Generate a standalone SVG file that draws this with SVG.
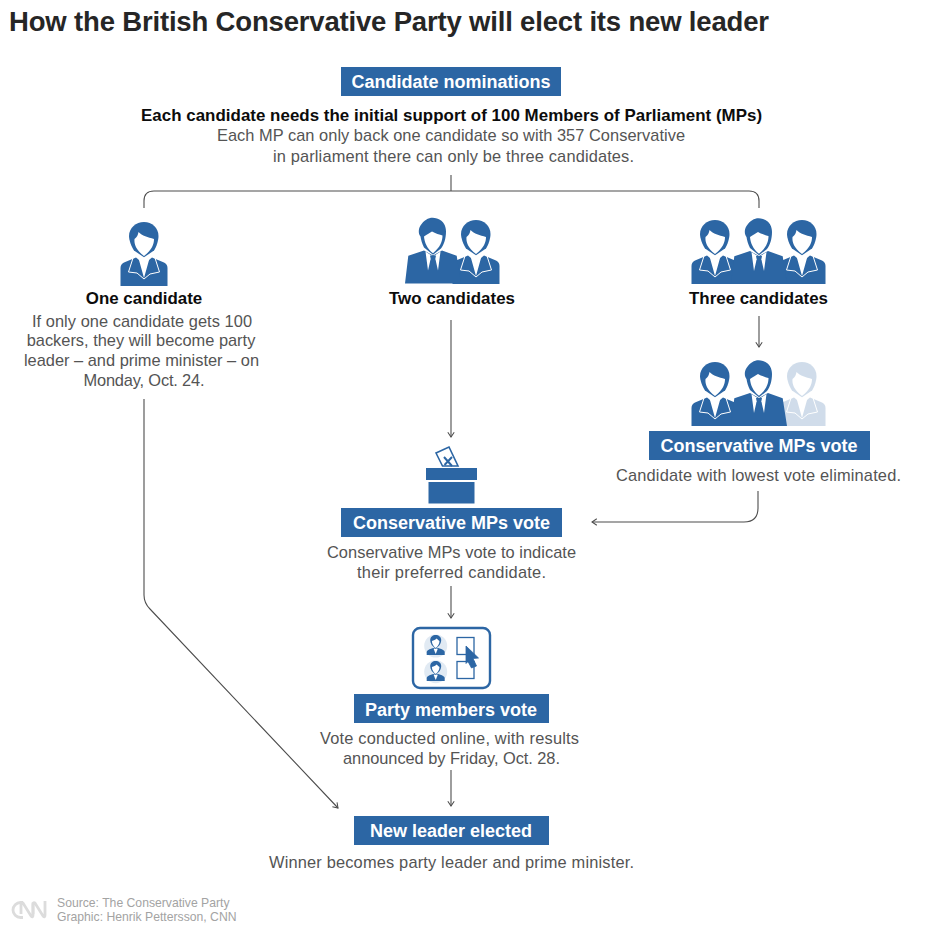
<svg xmlns="http://www.w3.org/2000/svg" width="934" height="946" viewBox="0 0 934 946">
<style>
text{font-family:"Liberation Sans",Arial,sans-serif}
.title{font-size:27.5px;font-weight:700;fill:#262626}
.box{fill:#2c66a4}
.bt{font-size:18px;font-weight:700;fill:#fff;text-anchor:middle}
.h{font-size:16.900px;font-weight:700;fill:#0c0c0c;text-anchor:middle}
.b{font-size:16.400px;fill:#545454;text-anchor:middle}
.src{font-size:12.200px;fill:#a3a3a3}
.c{fill:none;stroke:#4d4d4d;stroke-width:1.1}
.ic{fill:#2c66a4}
.w{fill:#fff}
.wl{fill:none;stroke:#fff;stroke-width:1}
</style>
<defs>
<marker id="a" viewBox="0 0 10 10" refX="9" refY="5" markerWidth="8" markerHeight="8" markerUnits="userSpaceOnUse" orient="auto"><path d="M3 1L9 5L3 9" fill="none" stroke="#4d4d4d" stroke-width="1.300"/></marker>
<g id="f">
<path class="ic" d="M-23.500 0V-18Q-23.500 -22 -20 -23.500L-8 -28.500L0 -22L8 -28.500L20 -23.500Q23.500 -22 23.500 -18V0Z"/>
<path class="ic" d="M0 -28.700L-10 -35.500C-12.500 -39 -15 -46 -15 -50C-15 -58 -8 -64 0 -64C8 -64 14.500 -58 14.500 -50C14.500 -46 12.500 -39 10 -35.500Z"/>
<path class="w" d="M-9.500 -47C-7 -49 -6 -51 -5.500 -54C-2 -50 4 -49 10 -47C10 -42 8 -36 0 -30C-8 -36 -10 -42 -9.500 -47Z"/>
<path class="w" d="M-6 -29.500L0 -26L6 -29.500L0 -8Z"/>
<path class="wl" d="M-11 -28L-15.500 -14L-7 -13L0 -7L6 -12L15.500 -14L11 -28"/>
</g>
<g id="m">
<path class="ic" d="M-28 0L-24.700 -27.700L-9 -33L0 -28L9 -33L23.700 -27.700L28 0Z"/>
<path class="ic" d="M0 -28.700L-9 -36C-11 -40 -12 -44 -12.500 -47C-15 -50 -14.500 -55 -12.500 -58C-8 -65 -2 -67 4 -65C11 -63 13 -57 13 -52C13 -45 11 -39 8 -35Z"/>
<path class="w" d="M-9 -47C-6 -49 -3 -51 -1 -52C2 -50 7 -49 9.500 -48C9.500 -42 7 -36 0 -30.300C-6 -35 -8.500 -41 -9 -47Z"/>
<path class="w" d="M-7.500 -32L0 -27L7.500 -32L5 -13L2.500 -24H-2.500L-5 -13Z"/>
<path class="ic" d="M-3 -28H3L2 -23L3.500 -13H-3.500L-2 -23Z"/>
</g>
<g id="p">
<path class="ic" d="M-9 9V6Q-9 4 -4 2.500L-2.500 2L0 3L2.500 2L4 2.500Q9 4 9 6V9Z"/>
<path class="ic" d="M0 3L-4 -1C-5 -3 -5.500 -5 -5.500 -6C-5.500 -9 -3 -11 0 -11C3 -11 5.500 -9 5.500 -6C5.500 -5 5 -3 4 -1Z"/>
<path class="w" d="M-3.800 -5C-2 -5.500 0 -6.500 1 -7.500C2 -6.500 3 -5.500 3.800 -5C3.800 -2 2 0.500 0 2C-2 0.500 -3.800 -2 -3.800 -5Z"/>
<path class="w" d="M-2 3L2 3L0 8Z"/>
</g>
</defs>
<rect width="934" height="946" fill="#fff"/>
<text class="title" x="9" y="31" textLength="760" lengthAdjust="spacing">How the British Conservative Party will elect its new leader</text>

<g id="connectors">
<path class="c" d="M451 175V191"/>
<path class="c" d="M144 208V201Q144 191 154 191H749Q759 191 759 201V208"/>
<path class="c" marker-end="url(#a)" d="M144 399V595Q144 603 150 609L338 808"/>
<path class="c" marker-end="url(#a)" d="M451 320V437"/>
<path class="c" marker-end="url(#a)" d="M759 316V347"/>
<path class="c" marker-end="url(#a)" d="M758 491V508Q758 522 744 522H592"/>
<path class="c" marker-end="url(#a)" d="M451 586V618"/>
<path class="c" marker-end="url(#a)" d="M451 770V806"/>
</g>

<g id="nominations">
<rect class="box" x="341" y="67" width="220" height="29"/>
<text class="bt" x="451" y="87.500">Candidate nominations</text>
<text class="h" x="451.500" y="121" textLength="621" lengthAdjust="spacing">Each candidate needs the initial support of 100 Members of Parliament (MPs)</text>
<text class="b" x="451" y="141" textLength="468" lengthAdjust="spacing">Each MP can only back one candidate so with 357 Conservative</text>
<text class="b" x="453.500" y="162" textLength="361" lengthAdjust="spacing">in parliament there can only be three candidates.</text>
</g>

<g id="one-candidate">
<use href="#f" x="144" y="286"/>
<text class="h" x="144" y="304">One candidate</text>
<text class="b" x="142" y="326.500" textLength="220" lengthAdjust="spacing">If only one candidate gets 100</text>
<text class="b" x="141" y="346">backers, they will become party</text>
<text class="b" x="141.500" y="365.500">leader – and prime minister – on</text>
<text class="b" x="144" y="385.500" textLength="121" lengthAdjust="spacing">Monday, Oct. 24.</text>
</g>

<g id="two-candidates">
<use href="#f" x="476" y="284"/>
<use href="#m" x="433" y="283.500"/>
<text class="h" x="452" y="304" textLength="126" lengthAdjust="spacing">Two candidates</text>
</g>

<g id="three-candidates">
<use href="#f" x="715" y="284"/>
<use href="#f" x="802" y="284"/>
<use href="#m" x="759" y="284"/>
<text class="h" x="758.500" y="304">Three candidates</text>
</g>

<g id="mps-vote-eliminate">
<g opacity=".22"><use href="#f" x="802" y="426"/></g>
<use href="#f" x="715" y="426"/>
<use href="#m" x="759" y="426"/>
<rect class="box" x="649" y="431" width="221" height="29"/>
<text class="bt" x="759" y="451.500">Conservative MPs vote</text>
<text class="b" x="758.500" y="480.500" textLength="285" lengthAdjust="spacing">Candidate with lowest vote eliminated.</text>
</g>

<g id="mps-vote">
<path d="M436 453L449 447L458 466H442.500Z" fill="#fff" stroke="#2c66a4" stroke-width="1.600"/>
<path d="M444 457L452 466M452 457L444.500 465" stroke="#2c66a4" stroke-width="2" fill="none"/>
<rect class="box" x="426" y="468" width="51" height="12"/>
<rect class="box" x="428.500" y="482" width="46" height="21.500"/>
<rect class="box" x="341" y="508" width="221" height="29"/>
<text class="bt" x="451.500" y="528.500">Conservative MPs vote</text>
<text class="b" x="451.500" y="557.500" textLength="249" lengthAdjust="spacing">Conservative MPs vote to indicate</text>
<text class="b" x="451.500" y="577.500" textLength="189" lengthAdjust="spacing">their preferred candidate.</text>
</g>

<g id="party-vote">
<rect x="413" y="628" width="77" height="60" rx="7" fill="#fff" stroke="#2c66a4" stroke-width="2.400"/>
<circle cx="435.700" cy="646" r="11.500" fill="#e1eaf3"/>
<circle cx="435.700" cy="671.700" r="11.500" fill="#e1eaf3"/>
<use href="#p" x="435.700" y="646"/>
<use href="#p" x="435.700" y="672"/>
<rect x="457" y="637.500" width="17" height="17" fill="#fff" stroke="#2c66a4" stroke-width="1.300"/>
<rect x="457" y="661.500" width="17" height="17" fill="#fff" stroke="#2c66a4" stroke-width="1.300"/>
<path class="ic" stroke="#2c66a4" stroke-width=".8" d="M466 646L478.500 658L473 658.500L476.500 666L471.500 668L468 661.500L466 663.500Z"/>
<rect class="box" x="354" y="694" width="195" height="29"/>
<text class="bt" x="451" y="715.500">Party members vote</text>
<text class="b" x="449.500" y="743.500" textLength="259" lengthAdjust="spacing">Vote conducted online, with results</text>
<text class="b" x="451.500" y="763.500" textLength="217" lengthAdjust="spacing">announced by Friday, Oct. 28.</text>
</g>

<g id="new-leader">
<rect class="box" x="354" y="816" width="195" height="29"/>
<text class="bt" x="451" y="836.500">New leader elected</text>
<text class="b" x="451.500" y="868" textLength="365" lengthAdjust="spacing">Winner becomes party leader and prime minister.</text>
</g>

<g id="footer">
<g fill="none" stroke="#dcdcdc" stroke-width="2.800">
<path d="M23 902.500H20.500A7.500 7.500 0 0 0 20.500 917.500H23"/>
<path d="M21 914V904.500Q21 902 23 903L31 916Q33 918 33 915V902.500"/>
<path d="M33 914V904.500Q33 902 35 903L43 916Q45 918 45 915V901"/>
</g>
<text class="src" x="57" y="907">Source: The Conservative Party</text>
<text class="src" x="57" y="921">Graphic: Henrik Pettersson, CNN</text>
</g>
</svg>
